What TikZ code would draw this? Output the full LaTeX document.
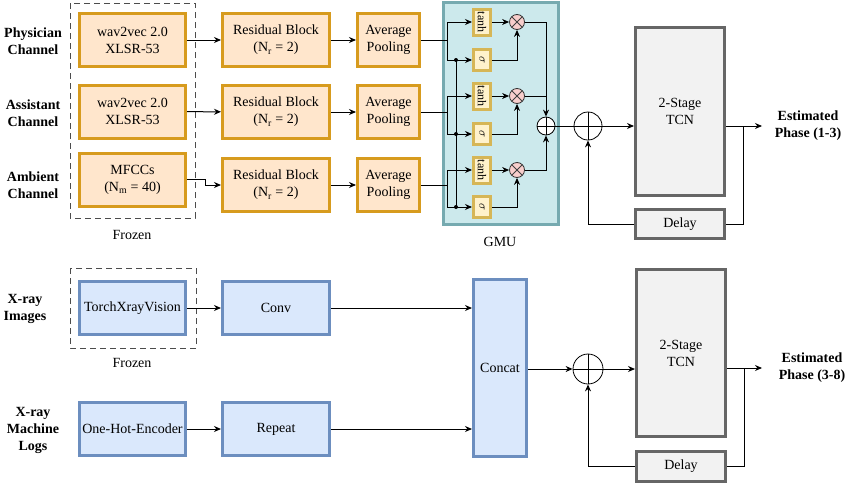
\documentclass[tikz,border=0pt]{standalone}
\usepackage{fontspec}
\setmainfont{Liberation Serif}
\usetikzlibrary{arrows.meta}
\definecolor{orfill}{RGB}{255,230,204}
\definecolor{ordraw}{RGB}{215,155,30}
\definecolor{blfill}{RGB}{218,232,252}
\definecolor{bldraw}{RGB}{108,142,191}
\definecolor{grfill}{RGB}{242,242,242}
\definecolor{grdraw}{RGB}{102,102,102}
\definecolor{gmufill}{RGB}{204,233,236}
\definecolor{gmudraw}{RGB}{118,170,176}
\definecolor{gtfill}{RGB}{255,242,204}
\definecolor{gtdraw}{RGB}{214,182,86}
\definecolor{pkfill}{RGB}{248,206,204}
\newcommand{\mf}{\fontsize{14}{17}\selectfont}
\newcommand{\gf}{\fontsize{12}{14}\selectfont}
\begin{document}
\begin{tikzpicture}[x=1pt,y=-1pt,
  box/.style={line width=3pt, minimum width=106pt, minimum height=53pt, inner sep=1pt, align=center, font=\mf},
  obox/.style={box, draw=ordraw, fill=orfill},
  bbox/.style={box, draw=bldraw, fill=blfill},
  gbox/.style={box, draw=grdraw, fill=grfill},
  gate/.style={draw=gtdraw, fill=gtfill, line width=3pt, minimum width=17pt, inner sep=0pt, font=\gf},
  mult/.style={circle, draw=black!80, fill=pkfill, minimum size=15pt, inner sep=0pt, line width=0.8pt,
    path picture={\draw[line width=0.8pt, black!75] (path picture bounding box.north west) -- (path picture bounding box.south east)
      (path picture bounding box.north east) -- (path picture bounding box.south west);}},
  plus/.style={circle, draw=black, fill=white, inner sep=0pt, line width=0.8pt,
    path picture={\draw[line width=0.8pt] (path picture bounding box.north) -- (path picture bounding box.south)
      (path picture bounding box.west) -- (path picture bounding box.east);}},
  lbl/.style={align=center, font=\mf\bfseries, inner sep=0pt},
  txt/.style={font=\mf, inner sep=0pt},
  arr/.style={-{Stealth[length=7pt,width=6pt]}, line width=1pt},
  ln/.style={line width=1pt},
  frozen/.style={draw=black!70, dash pattern=on 6pt off 4pt, line width=1pt},
  dot/.style={circle, fill=black, inner sep=0pt, minimum size=4pt}
]
\useasboundingbox (0,0) rectangle (850,485);

% ---------- top section ----------
\draw[frozen] (70,3) rectangle (195,218);
\node[txt] (fz1) at (132,235) {Frozen};

\node[lbl] (l1) at (33,41) {Physician\\Channel};
\node[lbl] (l2) at (33,113) {Assistant\\Channel};
\node[lbl] (l3) at (33,185) {Ambient\\Channel};

\node[obox] (w1) at (132.5,40) {wav2vec 2.0\\XLSR-53};
\node[obox] (w2) at (132.5,111.5) {wav2vec 2.0\\XLSR-53};
\node[obox] (w3) at (132.5,179.5) {MFCCs\\(N\textsubscript{m} = 40)};

\node[obox, minimum width=107pt] (r1) at (276,40) {Residual Block\\(N\textsubscript{r} = 2)};
\node[obox, minimum width=107pt] (r2) at (276,112) {Residual Block\\(N\textsubscript{r} = 2)};
\node[obox, minimum width=107pt] (r3) at (276,185) {Residual Block\\(N\textsubscript{r} = 2)};

\node[obox, minimum width=62pt] (a1) at (388.5,40) {Average\\Pooling};
\node[obox, minimum width=62pt] (a2) at (388.5,112) {Average\\Pooling};
\node[obox, minimum width=62pt] (a3) at (388.5,185) {Average\\Pooling};

\draw[arr] (w1) -- (r1);
\draw[arr] (w2) -- (r2);
\coordinate (k3) at (205,179.5);
\draw[arr] (w3.east) -- (k3) |- (r3.west);
\draw[arr] (r1) -- (a1);
\draw[arr] (r2) -- (a2);
\draw[arr] (r3) -- (a3);

% GMU
\draw[draw=gmudraw, fill=gmufill, line width=3pt] (443,2) rectangle (558,224);
\node[txt] (gmu) at (500,242) {GMU};

\node[gate, minimum height=26pt] (t1) at (482,22) {\rotatebox{-90}{tanh}};
\node[gate, minimum height=21pt] (s1) at (482,60) {\rotatebox{-90}{$\sigma$}};
\node[gate, minimum height=26pt] (t2) at (482,96) {\rotatebox{-90}{tanh}};
\node[gate, minimum height=21pt] (s2) at (482,134) {\rotatebox{-90}{$\sigma$}};
\node[gate, minimum height=26pt] (t3) at (482,170) {\rotatebox{-90}{tanh}};
\node[gate, minimum height=21pt] (s3) at (482,207) {\rotatebox{-90}{$\sigma$}};

\node[mult] (m1) at (517,22) {};
\node[mult] (m2) at (517,96) {};
\node[mult] (m3) at (517,170) {};
\node[plus, minimum size=18pt] (gp) at (546,126) {};

\coordinate (j1) at (447,40);
\coordinate (j2) at (447,112);
\coordinate (j3) at (447,185);
\draw[ln] (a1.east) -- (j1);
\draw[ln] (a2.east) -- (j2);
\draw[ln] (a3.east) -- (j3);
\draw[arr] (j1) |- (t1.west);
\draw[arr] (j1) |- (s1.west);
\draw[arr] (j2) |- (t2.west);
\draw[arr] (j2) |- (s2.west);
\draw[arr] (j3) |- (t3.west);
\draw[arr] (j3) |- (s3.west);

\coordinate (v1) at (456,60);
\coordinate (v2) at (456,134);
\coordinate (v3) at (456,207);
\draw[ln] (v1) -- (v3);
\node[dot] (d1) at (v1) {};
\node[dot] (d2) at (v2) {};
\node[dot] (d3) at (v3) {};

\draw[arr] (t1) -- (m1);
\draw[arr] (t2) -- (m2);
\draw[arr] (t3) -- (m3);
\draw[arr] (s1.east) -| (m1.south);
\draw[arr] (s2.east) -| (m2.south);
\draw[arr] (s3.east) -| (m3.south);
\draw[arr] (m1.east) -| (gp.north);
\draw[ln] (m2.east) -- (m2.east -| gp.north);
\draw[arr] (m3.east) -| (gp.south);

% top TCN
\node[plus, minimum size=28pt] (op1) at (588,126) {};
\node[gbox, minimum width=89pt, minimum height=168pt] (tcn1) at (680,111.5) {2-Stage\\TCN};
\node[gbox, minimum width=89pt, minimum height=29pt] (del1) at (680,224) {Delay};
\node[lbl] (e1) at (808,126) {Estimated\\Phase (1-3)};
\coordinate (o1) at (762,126);
\coordinate (b1) at (743,126);

\draw[ln] (gp.east) -- (op1.west);
\draw[arr] (op1.east) -- (op1.east -| tcn1.west);
\draw[arr] (tcn1.east |- o1) -- (o1);
\draw[ln] (b1) |- (del1.east);
\draw[arr] (del1.west) -| (op1.south);

% ---------- bottom section ----------
\draw[frozen] (70,268) rectangle (196,348);
\node[txt] (fz2) at (132,363) {Frozen};

\node[lbl] (l4) at (25,309) {X-ray\\Images};
\node[lbl] (l5) at (33,430) {X-ray\\Machine\\Logs};

\node[bbox] (tx) at (132.5,308) {TorchXrayVision};
\node[bbox, minimum width=107pt] (cv) at (276,308) {Conv};
\node[bbox] (oh) at (132.5,429) {One-Hot-Encoder};
\node[bbox, minimum width=107pt] (rp) at (276,429) {Repeat};
\node[bbox, minimum width=53pt, minimum height=177pt] (cc) at (500,368) {Concat};

\draw[arr] (tx) -- (cv);
\draw[arr] (oh) -- (rp);
\draw[arr] (cv.east) -- (cv.east -| cc.west);
\draw[arr] (rp.east) -- (rp.east -| cc.west);

\node[plus, minimum size=30pt] (op2) at (588,369) {};
\node[gbox, minimum width=89pt, minimum height=167pt] (tcn2) at (681,353) {2-Stage\\TCN};
\node[gbox, minimum width=89pt, minimum height=30pt] (del2) at (681,466.5) {Delay};
\node[lbl] (e2) at (812,368) {Estimated\\Phase (3-8)};
\coordinate (o2) at (762,368);
\coordinate (b2) at (744,368);

\draw[arr] (cc.east |- op2) -- (op2.west);
\draw[arr] (op2.east) -- (op2.east -| tcn2.west);
\draw[arr] (tcn2.east |- o2) -- (o2);
\draw[ln] (b2) |- (del2.east);
\draw[arr] (del2.west) -| (op2.south);
\end{tikzpicture}
\end{document}
